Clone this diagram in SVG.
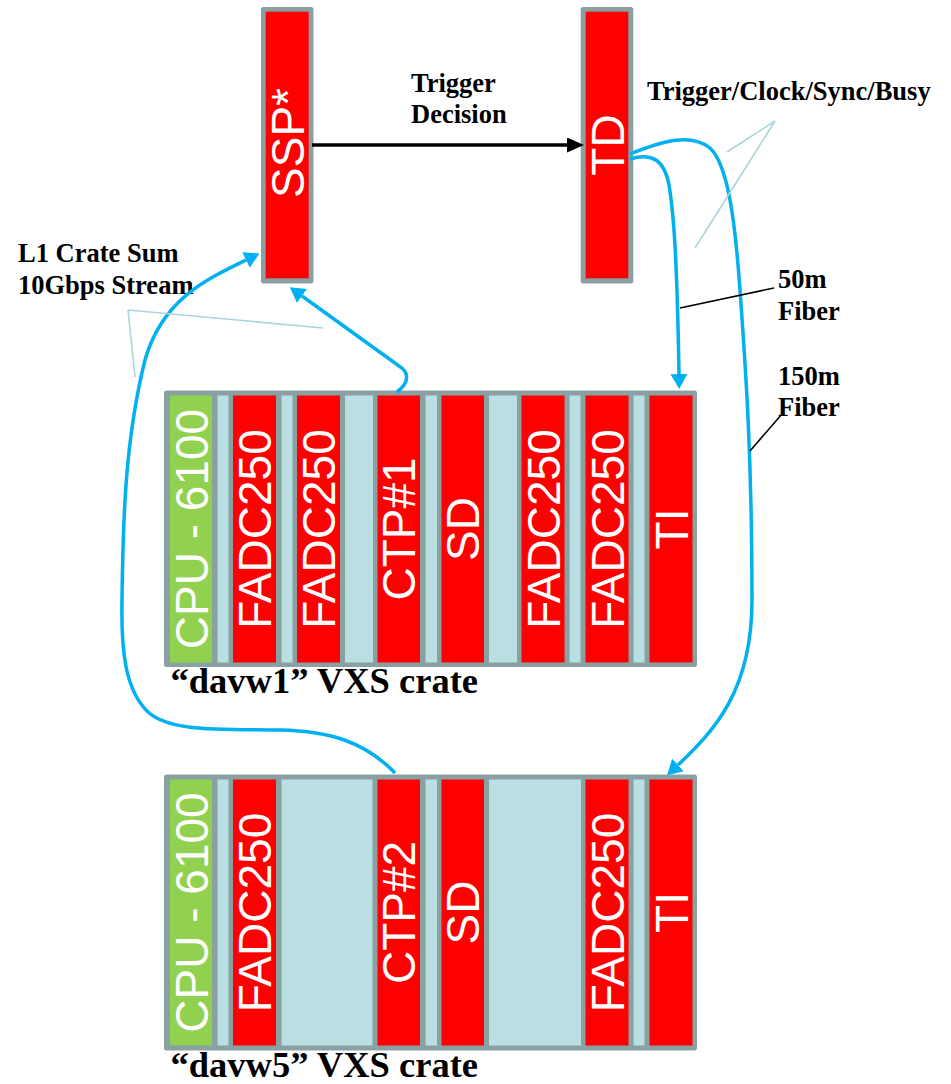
<svg xmlns="http://www.w3.org/2000/svg" width="951" height="1084" viewBox="0 0 951 1084">
<style>
.frame{fill:#8aa1a4}
.red{fill:#ff0000}
.grn{fill:#92d050}
.lb{fill:#b9dfe2}
.card{font-family:"Liberation Sans",Arial,sans-serif;font-size:46px;fill:#ffffff;text-anchor:middle}
.lbl{font-family:"Liberation Serif","Times New Roman",serif;font-weight:bold;font-size:26.5px;fill:#000000}
.crate{font-family:"Liberation Serif","Times New Roman",serif;font-weight:bold;font-size:36.5px;fill:#000000}
.fiber{fill:none;stroke:#00b0f0;stroke-width:3.5}
.lead{fill:none;stroke:#000000;stroke-width:1.6}
.call{fill:none;stroke:#a9d5d9;stroke-width:1.6}
</style>
<defs>
<marker id="blueArrow" markerUnits="userSpaceOnUse" markerWidth="16" markerHeight="18" refX="0" refY="8.5" orient="auto">
<path d="M0,0 L15,8.5 L0,17 z" fill="#00b0f0"/>
</marker>
<marker id="blackArrow" markerUnits="userSpaceOnUse" markerWidth="18" markerHeight="16" refX="0" refY="7.5" orient="auto">
<path d="M0,0 L17,7.5 L0,15 z" fill="#000000"/>
</marker>
</defs>

<g id="ssp">
<rect class="frame" x="261" y="7" width="52.5" height="276.5" rx="2.5"/>
<rect class="red" x="265.7" y="11.7" width="43" height="266.6"/>
<text class="card" transform="translate(304,143) rotate(-90)">SSP*</text>
</g>

<g id="td">
<rect class="frame" x="580.7" y="7" width="52.6" height="276.5" rx="2.5"/>
<rect class="red" x="585.7" y="11.7" width="42.6" height="266.6"/>
<text class="card" transform="translate(623.5,145) rotate(-90)">TD</text>
</g>

<g id="crate1">
<rect class="frame" x="164" y="390.5" width="533" height="276.5" rx="2.5"/>
<g id="c1-cpu"><rect class="grn" x="170" y="395.5" width="42" height="267"/><text class="card" transform="translate(207.5,529) rotate(-90)">CPU - 6100</text></g>
<rect class="lb" x="217.5" y="395.5" width="11" height="267"/>
<g id="c1-fadc1"><rect class="red" x="233" y="395.5" width="43" height="267"/><text class="card" transform="translate(271,529) rotate(-90)">FADC250</text></g>
<rect class="lb" x="281.5" y="395.5" width="11" height="267"/>
<g id="c1-fadc2"><rect class="red" x="297" y="395.5" width="43" height="267"/><text class="card" transform="translate(335,529) rotate(-90)">FADC250</text></g>
<rect class="lb" x="345" y="395.5" width="28" height="267"/>
<g id="c1-ctp"><rect class="red" x="377.5" y="395.5" width="42.5" height="267"/><text class="card" transform="translate(415.3,529) rotate(-90)">CTP#1</text></g>
<rect class="lb" x="425.5" y="395.5" width="11.5" height="267"/>
<g id="c1-sd"><rect class="red" x="441.5" y="395.5" width="42.5" height="267"/><text class="card" transform="translate(479.3,529) rotate(-90)">SD</text></g>
<rect class="lb" x="489" y="395.5" width="28" height="267"/>
<g id="c1-fadc3"><rect class="red" x="521.5" y="395.5" width="43" height="267"/><text class="card" transform="translate(559.5,529) rotate(-90)">FADC250</text></g>
<rect class="lb" x="569.5" y="395.5" width="11" height="267"/>
<g id="c1-fadc4"><rect class="red" x="585.5" y="395.5" width="43" height="267"/><text class="card" transform="translate(623.5,529) rotate(-90)">FADC250</text></g>
<rect class="lb" x="633.5" y="395.5" width="11" height="267"/>
<g id="c1-ti"><rect class="red" x="649.5" y="395.5" width="43" height="267"/><text class="card" transform="translate(687.5,529) rotate(-90)">TI</text></g>
<text class="crate" x="170.5" y="693">“davw1” VXS crate</text>
</g>

<g id="crate2">
<rect class="frame" x="164" y="774.5" width="533" height="276" rx="2.5"/>
<g id="c2-cpu"><rect class="grn" x="170" y="779.5" width="42" height="266"/><text class="card" transform="translate(207.5,912.5) rotate(-90)">CPU - 6100</text></g>
<rect class="lb" x="217.5" y="779.5" width="11" height="266"/>
<g id="c2-fadc1"><rect class="red" x="233" y="779.5" width="43" height="266"/><text class="card" transform="translate(271,912.5) rotate(-90)">FADC250</text></g>
<rect class="lb" x="281.5" y="779.5" width="91" height="266"/>
<g id="c2-ctp"><rect class="red" x="377.5" y="779.5" width="42.5" height="266"/><text class="card" transform="translate(415.3,912.5) rotate(-90)">CTP#2</text></g>
<rect class="lb" x="425.5" y="779.5" width="11.5" height="266"/>
<g id="c2-sd"><rect class="red" x="441.5" y="779.5" width="42.5" height="266"/><text class="card" transform="translate(479.3,912.5) rotate(-90)">SD</text></g>
<rect class="lb" x="489" y="779.5" width="92" height="266"/>
<g id="c2-fadc2"><rect class="red" x="585.5" y="779.5" width="43" height="266"/><text class="card" transform="translate(623.5,912.5) rotate(-90)">FADC250</text></g>
<rect class="lb" x="633.5" y="779.5" width="11" height="266"/>
<g id="c2-ti"><rect class="red" x="649.5" y="779.5" width="43" height="266"/><text class="card" transform="translate(687.5,912.5) rotate(-90)">TI</text></g>
<text class="crate" x="170.5" y="1077">“davw5” VXS crate</text>
</g>

<g id="labels">
<text class="lbl" x="411" y="92">Trigger</text>
<text class="lbl" x="411" y="123">Decision</text>
<text class="lbl" x="647" y="100">Trigger/Clock/Sync/Busy</text>
<text class="lbl" x="778" y="288">50m</text>
<text class="lbl" x="778" y="320">Fiber</text>
<text class="lbl" x="778" y="385">150m</text>
<text class="lbl" x="778" y="416">Fiber</text>
<text class="lbl" x="18" y="262">L1 Crate Sum</text>
<text class="lbl" x="18" y="294">10Gbps Stream</text>
</g>

<g id="connectors">
<line x1="312" y1="145" x2="567" y2="145" stroke="#000000" stroke-width="3.5" marker-end="url(#blackArrow)"/>
<path class="fiber" d="M630 159 C650 153 664 158 669 185 C674 215 677 260 679 374" marker-end="url(#blueArrow)"/>
<path class="fiber" d="M630 154 C660 142 690 132 710 148 C728 165 735 220 740 290 C745 360 752 450 752 600 C752 690 715 730 678 765" marker-end="url(#blueArrow)"/>
<path class="fiber" d="M397 392 C410 382 409 372 399 366 L302 296" marker-end="url(#blueArrow)"/>
<path class="fiber" d="M395 773 C365 742 330 731 280 730 C220 729 170 732 148 712 C125 690 121 650 122 600 C123 520 125 440 145 360 C162 300 205 280 246 260" marker-end="url(#blueArrow)"/>
<line class="lead" x1="680" y1="308" x2="774" y2="288"/>
<line class="lead" x1="750" y1="451" x2="782" y2="414"/>
<line class="call" x1="775" y1="121" x2="727" y2="152"/>
<line class="call" x1="775" y1="121" x2="695" y2="248"/>
<line class="call" x1="128" y1="310" x2="135" y2="377"/>
<line class="call" x1="128" y1="310" x2="323" y2="328"/>
</g>
</svg>
